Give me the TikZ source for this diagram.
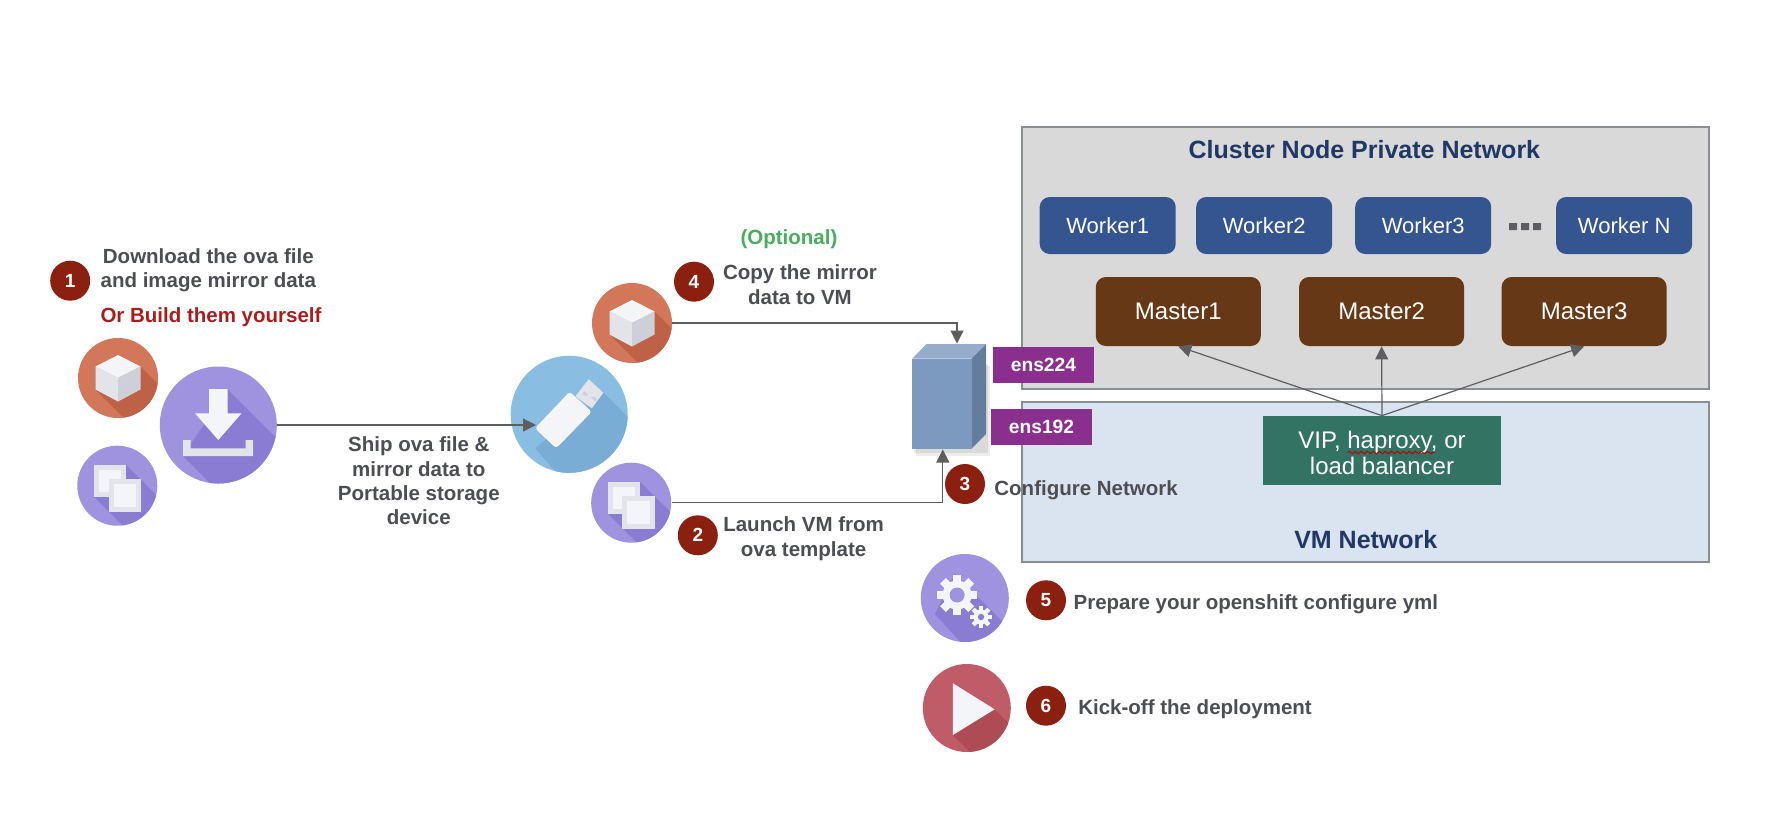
\documentclass[tikz,border=0pt]{standalone}
\usepackage{fontspec}
\setmainfont{Liberation Sans}
\usetikzlibrary{arrows.meta,decorations.pathmorphing}
\definecolor{txt}{HTML}{4D4E52}
\definecolor{redtxt}{HTML}{A81E1E}
\definecolor{greentxt}{HTML}{4AAC5E}
\definecolor{navy}{HTML}{1F3864}
\definecolor{badgec}{HTML}{8B2010}
\definecolor{purp}{HTML}{9F93E0}
\definecolor{purpd}{HTML}{8A7CD2}
\definecolor{oran}{HTML}{D2775A}
\definecolor{orand}{HTML}{BE6146}
\definecolor{sky}{HTML}{89BDE1}
\definecolor{skyd}{HTML}{79ADD5}
\definecolor{rosec}{HTML}{C05C68}
\definecolor{rosed}{HTML}{AE4C55}
\definecolor{lightf}{HTML}{F4F5F9}
\definecolor{midf}{HTML}{E3E4EA}
\definecolor{darkf}{HTML}{CDD0D8}
\definecolor{workerc}{HTML}{34558F}
\definecolor{masterc}{HTML}{663816}
\definecolor{vipc}{HTML}{337364}
\definecolor{ensc}{HTML}{8A2F8E}
\definecolor{grayzone}{HTML}{D9D9D9}
\definecolor{bluezone}{HTML}{DAE3F0}
\definecolor{zoneline}{HTML}{8A8D92}
\definecolor{vmfront}{HTML}{7C9ABF}
\definecolor{vmtopc}{HTML}{95ACCA}
\definecolor{vmside}{HTML}{627D9E}
\definecolor{linec}{HTML}{5E5E60}
\tikzset{
  x=0.5pt,y=-0.5pt,
  zone/.style={rectangle,draw=zoneline,line width=1pt,inner sep=0pt},
  label/.style={text=txt,align=center,inner sep=0pt,font=\fontsize{10.25}{12.2}\selectfont\bfseries},
  title/.style={text=navy,inner sep=0pt,font=\fontsize{12.5}{14}\selectfont\bfseries},
  badge/.style={circle,fill=badgec,text=white,inner sep=0pt,minimum size=20pt,font=\fontsize{9.5}{11}\selectfont\bfseries},
  workerbox/.style={rectangle,rounded corners=5pt,fill=workerc,text=white,inner sep=0pt,minimum width=68pt,minimum height=28.5pt,font=\fontsize{11}{13}\selectfont},
  masterbox/.style={rectangle,rounded corners=5pt,fill=masterc,text=white,inner sep=0pt,minimum width=82.5pt,minimum height=34.5pt,font=\fontsize{12}{14}\selectfont},
  ensbox/.style={rectangle,fill=ensc,text=white,inner sep=0pt,minimum width=50.5pt,minimum height=18pt,font=\fontsize{9.6}{11}\selectfont\bfseries},
  link/.style={draw=linec,line width=0.6pt,-{Triangle[length=6.5pt,width=6.5pt]}},
}
% \flaticon{name}{cx}{cy}{r}{base}{shadow}{shadow polygon, relative}{icon body, relative}
\newcommand{\flaticon}[8]{%
  \node[circle,inner sep=0pt,minimum size=#4pt,fill=#5] (#1) at (#2,#3) {};
  \begin{scope}
    \clip (#2,#3) circle (#4);
    \begin{scope}[shift={(#2,#3)}]
      \fill[#6] #7;
    \end{scope}
  \end{scope}
  \begin{scope}[shift={(#2,#3)}]
    #8
  \end{scope}
}
\newcommand{\cubebody}{%
  \fill[lightf] (0,-23) -- (22.5,-11.5) -- (0,0) -- (-22.5,-11.5) -- cycle;
  \fill[midf] (-22.5,-11.5) -- (0,0) -- (0,23.5) -- (-22.5,11.5) -- cycle;
  \fill[darkf] (22.5,-11.5) -- (0,0) -- (0,23.5) -- (22.5,11.5) -- cycle;
}
\newcommand{\copybody}{%
  \fill[midf] (-23.4,-20.7) rectangle (9.1,11);
  \fill[lightf] (-18.4,-15.7) rectangle (4.1,6);
  \fill[midf] (-8.8,-6.7) rectangle (23.7,26.3);
  \fill[lightf] (-3.8,-1.7) rectangle (18.7,21.3);
}
\newcommand{\cubeshadow}{(22.5,-11.5) -- (82.5,48.5) -- (37.5,71.5) -- (-22.5,11.5) -- (0,23.5) -- cycle}
\newcommand{\copyshadow}{(9.1,-20.7) -- (79.1,49.3) -- (46.6,81) -- (-23.4,11) -- cycle}
\begin{document}
\begin{tikzpicture}
\useasboundingbox (0,0) rectangle (1786,820);
\fill[white] (0,0) rectangle (1786,820);

% network zones
\node[zone,fill=grayzone,minimum width=343.6pt,minimum height=131.3pt] (privnet) at (1365.2,258) {};
\node[zone,fill=bluezone,minimum width=343.4pt,minimum height=80pt] (vmnet) at (1365.8,481.7) {};
\node[title] (privtitle) at (1364.4,150) {Cluster Node Private Network};
\node[title] (vmtitle) at (1365.8,540) {VM Network};

% workers
\node[workerbox] (w1) at (1107.7,225.5) {Worker1};
\node[workerbox] (w2) at (1264.2,225.5) {Worker2};
\node[workerbox] (w3) at (1423.2,225.5) {Worker3};
\node[workerbox] (wn) at (1624.2,225.5) {Worker N};
\fill[linec] (1509,223) rectangle (1517,230) (1521,223) rectangle (1529,230) (1533,223) rectangle (1541,230);

% masters
\node[masterbox] (m1) at (1178.3,311.5) {Master1};
\node[masterbox] (m2) at (1381.6,311.5) {Master2};
\node[masterbox] (m3) at (1584.1,311.5) {Master3};

% load balancer
\node[rectangle,fill=vipc,inner sep=0pt,minimum width=119pt,minimum height=34.4pt] (vip) at (1382,450.4) {};
\node[text=white,inner sep=0pt,align=center,font=\fontsize{12}{13}\selectfont] (viptext) at (1382,452.5) {VIP, haproxy, or\\load balancer};
\draw[red!75!black,line width=0.5pt,decorate,decoration={snake,segment length=3pt,amplitude=0.6pt}] (1347.5,452.5) -- (1434.7,452.5);
\draw[link] (vip.north) -- (m1.south);
\draw[link] (vip.north) -- (m2.south);
\draw[link] (vip.north) -- (m3.south);

% VM block
\fill[black,opacity=0.07] (916,366) rectangle (990,456);
\fill[black,opacity=0.08] (914,364) rectangle (988,453);
\fill[vmtopc] (912.1,358.7) -- (926.6,344) -- (986,344) -- (971.5,358.7) -- cycle;
\fill[vmside] (971.5,358.7) -- (986,344) -- (986,434) -- (971.5,448.7) -- cycle;
\node[rectangle,fill=vmfront,inner sep=0pt,minimum width=29.7pt,minimum height=45pt] (vm) at (941.8,403.7) {};
\node[ensbox] (ens224) at (1043.4,365) {ens224};
\node[ensbox] (ens192) at (1041.5,427) {ens192};
\coordinate (vmin1) at (957,343.5);
\coordinate (vmin2) at (942.8,449.5);
\coordinate (usbin) at (536,425);

% icons
\flaticon{cubeA}{118}{378}{40}{oran}{orand}{\cubeshadow}{\cubebody}
\flaticon{copyA}{117.3}{485.7}{40}{purp}{purpd}{\copyshadow}{\copybody}
\flaticon{dl}{218.3}{425}{58.5}{purp}{purpd}
  {(9.2,-36) -- (109.2,64) -- (64.7,131) -- (-35.3,31) -- cycle}
  {\fill[lightf] (-9.2,-36) -- (9.2,-36) -- (9.2,-11.7) -- (23.3,-11.7) -- (0,15) -- (-23.3,-11.7) -- (-9.2,-11.7) -- cycle;
   \fill[midf] (-35.3,15) -- (-27.6,15) -- (-27.6,23.3) -- (27.2,23.3) -- (27.2,15) -- (34.8,15) -- (34.8,31) -- (-35.3,31) -- cycle;}
\flaticon{usb}{569.2}{414.3}{58.5}{sky}{skyd}
  {(34,-22) -- (104,48) -- (36,114) -- (-34,34) -- cycle}
  {\fill[midf] (19.5,-35) -- (34.1,-21.6) -- (22.6,-6) -- (6.2,-18) -- cycle;
   \fill[darkf] (15,-23) -- (19,-20) -- (17,-18) -- (13,-21) -- cycle (24,-18) -- (28,-15) -- (26,-13) -- (22,-16) -- cycle;
   \fill[lightf,rounded corners=1.5pt] (0.4,-22.6) -- (22.6,-2.6) -- (-13,34) -- (-34.2,14) -- cycle;}
\flaticon{cubeB}{632}{323}{40}{oran}{orand}{\cubeshadow}{\cubebody}
\flaticon{copyB}{631.2}{502.7}{40}{purp}{purpd}{\copyshadow}{\copybody}
\flaticon{gears}{964.8}{598}{44}{purp}{purpd}
  {(-10,-24) -- (80,66) -- (38,90) -- (-30,16) -- cycle}
  {\foreach \a in {0,45,...,315} {\fill[lightf,rotate around={\a:(-7.7,-3)}] (-11.7,-23) rectangle (-3.7,-12);}
   \fill[lightf] (-7.7,-3) circle (14.5);
   \fill[purp] (-7.7,-3) circle (7.5);
   \foreach \a in {0,45,...,315} {\fill[lightf,rotate around={\a:(16.2,19)}] (14,8) rectangle (18.4,14);}
   \fill[lightf] (16.2,19) circle (7.5);
   \fill[purpd] (16.2,19) circle (3.2);}
\flaticon{play}{966.8}{708}{44}{rosec}{rosed}
  {(27.8,1.3) -- (87.8,61.3) -- (46,87) -- (-13.9,27) -- cycle}
  {\fill[lightf] (-13.9,-24.7) -- (27.8,1.3) -- (-13.9,27) -- cycle;}

% connectors
\draw[link] (dl.east) -- (usbin);
\draw[link] (cubeB.east) -| (vmin1);
\draw[link] (copyB.east) -| (vmin2);

% badges
\node[badge] (b1) at (70.2,280.7) {1};
\node[badge] (b2) at (697.8,535.3) {2};
\node[badge] (b3) at (965,484) {3};
\node[badge] (b4) at (694,281.7) {4};
\node[badge] (b5) at (1046,600.3) {5};
\node[badge] (b6) at (1046,705.7) {6};

% labels
\node[label] (t1) at (208.3,270.5) {Download the ova file\\and image mirror data};
\node[label,text=redtxt] (t1b) at (211,317) {Or Build them yourself};
\node[label] (tship) at (418.8,481) {Ship ova file \&\\mirror data to\\Portable storage\\device};
\node[label,text=greentxt] (topt) at (789,239.3) {(Optional)};
\node[label] (t4) at (800,284.5) {Copy the mirror\\data to VM};
\node[label] (t2) at (803.6,538.5) {Launch VM from\\ova template};
\node[label,anchor=west] (t3) at (994,490) {Configure Network};
\node[label,anchor=west] (t5) at (1073.2,604) {Prepare your openshift configure yml};
\node[label,anchor=west] (t6) at (1077.9,709) {Kick-off the deployment};
\end{tikzpicture}
\end{document}
